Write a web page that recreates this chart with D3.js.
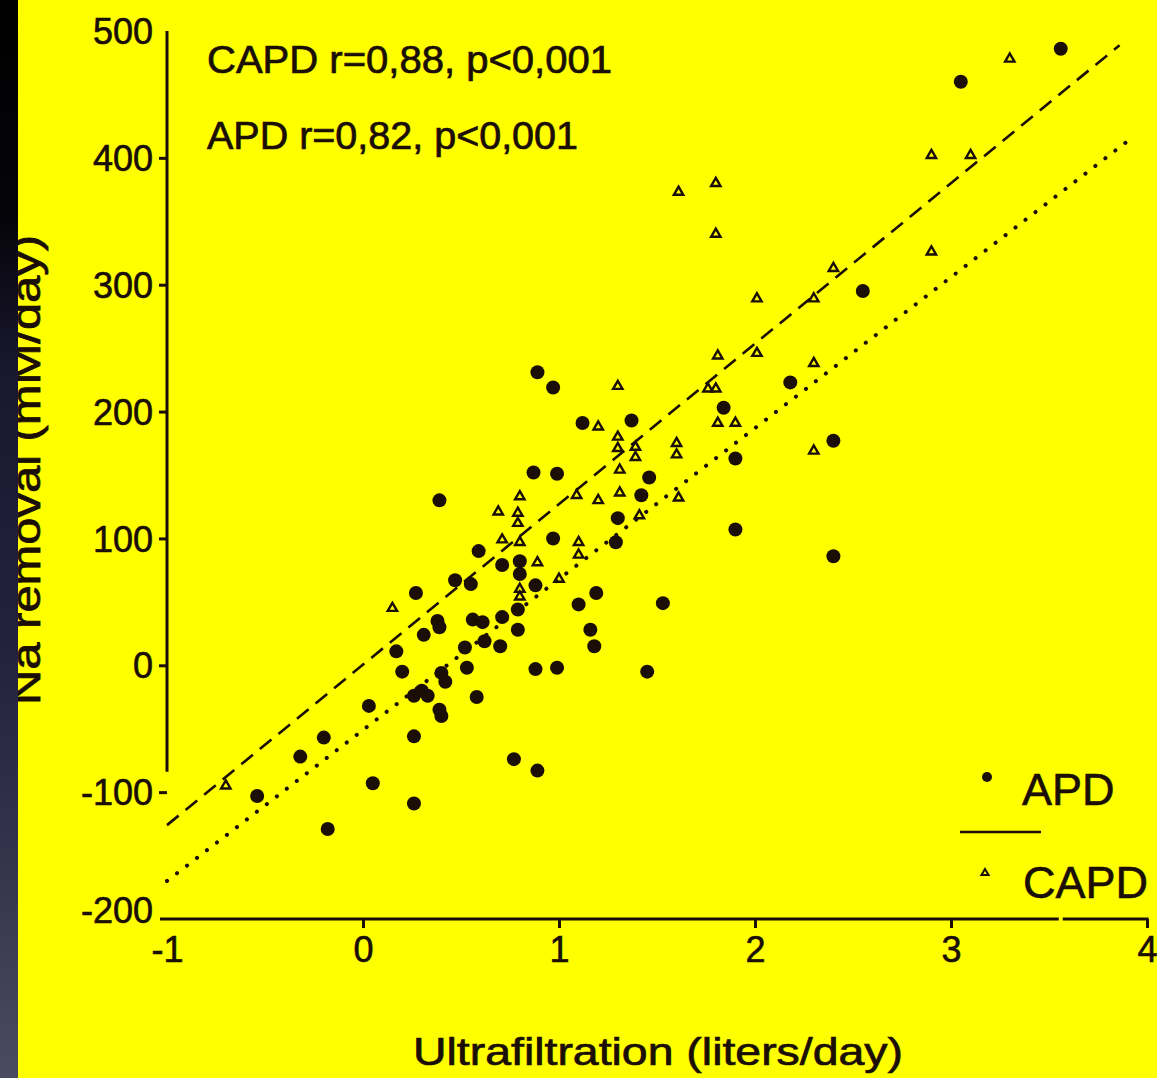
<!DOCTYPE html>
<html>
<head>
<meta charset="utf-8">
<script src="https://cdn.jsdelivr.net/npm/d3@7"></script>
<style>
  html, body { margin: 0; padding: 0; background: #ffff00; overflow: hidden; }
  svg { display: block; }
  text { font-family: "Liberation Sans", Arial, sans-serif; fill: #1a0e05; }
</style>
</head>
<body>
<svg id="chart" width="1157" height="1078"></svg>
<script>
// ---- data ----
const xTicks = [-1, 0, 1, 2, 3, 4];
const yTicks = [-200, -100, 0, 100, 200, 300, 400, 500];

// APD: filled dots  [ultrafiltration L/day, Na removal mM/day]
const apdPoints = [
  [3.05,460],[3.56,486],[2.55,295],[2.18,223],[2.40,177],[1.90,163],[1.90,107],[2.40,86],
  [1.37,193],[1.46,148],[1.42,134],[1.30,116],[1.29,97],[1.53,49],[1.84,203],[0.89,231],
  [0.97,219],[1.12,191],[0.87,152],[0.99,151],[0.39,130],[0.97,100],[0.59,90],[0.71,79],
  [0.80,82],[0.80,72],[0.47,67],[0.55,64],[0.27,57],[0.88,63],[1.19,57],[1.10,48],
  [0.79,44],[0.38,35],[0.39,30],[0.56,36],[0.61,34],[0.71,38],[0.79,28],[0.31,24],
  [0.62,19],[0.70,15],[0.52,14],[1.16,28],[1.18,15],[0.17,11],[0.20,-5],[0.53,-2],
  [0.40,-6],[0.42,-13],[0.88,-3],[0.99,-2],[1.45,-5],[0.26,-24],[0.30,-20],[0.33,-24],
  [0.03,-32],[0.39,-35],[0.40,-40],[0.58,-25],[0.26,-56],[0.77,-74],[0.89,-83],[0.05,-93],
  [0.26,-109],[-0.20,-57],[-0.32,-72],[-0.54,-103],[-0.18,-129]
];

// CAPD: small open marks
const capdPoints = [
  [3.30,478],[2.90,402],[3.10,402],[1.61,373],[1.80,380],[1.80,340],[2.90,326],[2.40,313],
  [2.01,289],[2.30,289],[1.81,244],[2.01,246],[1.30,220],[1.76,218],[1.80,218],[1.81,191],
  [2.30,238],[1.90,191],[1.60,175],[1.60,166],[1.39,172],[1.39,164],[1.31,154],[1.31,136],
  [1.30,180],[1.61,132],[2.30,169],[1.20,188],[1.30,171],[0.80,133],[0.69,121],[0.79,120],
  [0.79,112],[1.20,130],[1.09,134],[1.41,118],[0.71,99],[0.80,97],[1.10,97],[1.10,87],
  [1.00,68],[0.89,81],[0.80,60],[0.80,54],[0.15,45],[-0.70,-95]
];

// regression lines: [slope, intercept, xStart, xEnd]
const dashedFit = [126.5, 0.5, -1, 3.86];
const dottedFit = [119, -51, -1, 3.93];

const annotations = ["CAPD r=0,88, p<0,001", "APD r=0,82, p<0,001"];
const legendLabels = ["APD", "CAPD"];
const xTitle = "Ultrafiltration (liters/day)";
const yTitle = "Na removal (mM/day)";

// ---- drawing ----
const ink = "#1a0e05";
const svg = d3.select("#chart");
svg.append("rect").attr("width", 1157).attr("height", 1078).attr("fill", "#ffff00");

const x = d3.scaleLinear().domain([-1, 4]).range([167, 1147]);
const y = d3.scaleLinear().domain([-200, 500]).range([919, 31]);

// axes
const yAxis = d3.axisLeft(y).tickValues(yTicks).tickSize(8).tickPadding(6)
  .tickFormat(d => d < 0 ? "-" + Math.abs(d) : String(d));
const gy = svg.append("g").attr("transform", `translate(${x(-1)},0)`).call(yAxis);
gy.select(".domain").remove();
gy.selectAll(".tick line").attr("stroke", ink).attr("stroke-width", 3)
  .attr("display", d => (d === 500 || d === -200) ? "none" : null);
gy.selectAll(".tick text").attr("font-size", 36).attr("fill", ink)
  .attr("stroke", ink).attr("stroke-width", 0.6)
  .attr("font-family", "'Liberation Sans', Arial, sans-serif")
  .attr("dy", d => d === -200 ? "0.1em" : "0.35em");
svg.append("line").attr("x1", x(-1)).attr("x2", x(-1))
  .attr("y1", y(500)).attr("y2", y(-84))
  .attr("stroke", ink).attr("stroke-width", 3);

const xAxis = d3.axisBottom(x).tickValues(xTicks).tickSize(9).tickPadding(8)
  .tickFormat(d => d < 0 ? "-" + Math.abs(d) : String(d));
const gx = svg.append("g").attr("transform", `translate(0,${y(-200)})`).call(xAxis);
gx.select(".domain").remove();
gx.selectAll(".tick line").attr("stroke", ink).attr("stroke-width", 3)
  .attr("display", d => d === -1 ? "none" : null);
gx.selectAll(".tick text").attr("font-size", 36).attr("fill", ink)
  .attr("stroke", ink).attr("stroke-width", 0.6)
  .attr("font-family", "'Liberation Sans', Arial, sans-serif");
svg.append("line").attr("x1", x(-1) - 7).attr("x2", x(3.55))
  .attr("y1", y(-200)).attr("y2", y(-200)).attr("stroke", ink).attr("stroke-width", 3);
svg.append("line").attr("x1", x(3.57)).attr("x2", x(4) + 1.5)
  .attr("y1", y(-200)).attr("y2", y(-200)).attr("stroke", ink).attr("stroke-width", 3);

// regression lines
function fitLine(f) {
  return [[f[2], f[0] * f[2] + f[1]], [f[3], f[0] * f[3] + f[1]]];
}
const lineGen = d3.line().x(d => x(d[0])).y(d => y(d[1]));
svg.append("path").attr("d", lineGen(fitLine(dashedFit)))
  .attr("fill", "none").attr("stroke", ink).attr("stroke-width", 2.6)
  .attr("stroke-dasharray", "15 9");
svg.append("path").attr("d", lineGen(fitLine(dottedFit)))
  .attr("fill", "none").attr("stroke", ink).attr("stroke-width", 4)
  .attr("stroke-linecap", "round").attr("stroke-dasharray", "0.1 12.5");

// points
svg.append("g").selectAll("circle").data(apdPoints).join("circle")
  .attr("cx", d => x(d[0])).attr("cy", d => y(d[1])).attr("r", 7)
  .attr("fill", ink);
const tri = d3.symbol().type(d3.symbolTriangle).size(38);
svg.append("g").selectAll("path").data(capdPoints).join("path")
  .attr("transform", d => `translate(${x(d[0])},${y(d[1])})`)
  .attr("d", tri).attr("fill", "none").attr("stroke", ink).attr("stroke-width", 2.4);

// annotations
svg.selectAll("text.ann").data(annotations).join("text").attr("class", "ann")
  .attr("x", 207).attr("y", (d, i) => 73 + i * 76)
  .attr("font-size", 38).attr("stroke", ink).attr("stroke-width", 0.7)
  .attr("textLength", (d, i) => i === 0 ? 405 : 371).attr("lengthAdjust", "spacingAndGlyphs")
  .text(d => d);

// legend
svg.append("circle").attr("cx", 987).attr("cy", 777).attr("r", 5).attr("fill", ink);
svg.append("text").attr("x", 1022).attr("y", 805).attr("font-size", 45)
  .attr("stroke", ink).attr("stroke-width", 0.6).text(legendLabels[0]);
svg.append("line").attr("x1", 960).attr("x2", 1041).attr("y1", 832).attr("y2", 832)
  .attr("stroke", ink).attr("stroke-width", 2.6);
svg.append("path").attr("transform", "translate(985,873)").attr("d", d3.symbol().type(d3.symbolTriangle).size(22))
  .attr("fill", "none").attr("stroke", ink).attr("stroke-width", 2);
svg.append("text").attr("x", 1023).attr("y", 898).attr("font-size", 45)
  .attr("stroke", ink).attr("stroke-width", 0.6).text(legendLabels[1]);

// axis titles
svg.append("text").attr("x", 658).attr("y", 1065).attr("text-anchor", "middle")
  .attr("font-size", 39).attr("stroke", ink).attr("stroke-width", 0.7)
  .attr("textLength", 490).attr("lengthAdjust", "spacingAndGlyphs").text(xTitle);
svg.append("text").attr("transform", "translate(40,470) rotate(-90)")
  .attr("text-anchor", "middle").attr("font-size", 40)
  .attr("stroke", ink).attr("stroke-width", 0.7)
  .attr("textLength", 470).attr("lengthAdjust", "spacingAndGlyphs").text(yTitle);

// dark strip on the left edge
const defs = svg.append("defs");
const grad = defs.append("linearGradient").attr("id", "strip").attr("x1", 0).attr("x2", 0).attr("y1", 0).attr("y2", 1);
[[0, "#000000"], [0.2, "#050409"], [0.35, "#1a1830"], [0.6, "#23213c"], [0.8, "#35344d"], [1, "#4a4a60"]]
  .forEach(s => grad.append("stop").attr("offset", s[0]).attr("stop-color", s[1]));
svg.append("rect").attr("x", 0).attr("y", 0).attr("width", 18).attr("height", 1078).attr("fill", "url(#strip)");
</script>
</body>
</html>
